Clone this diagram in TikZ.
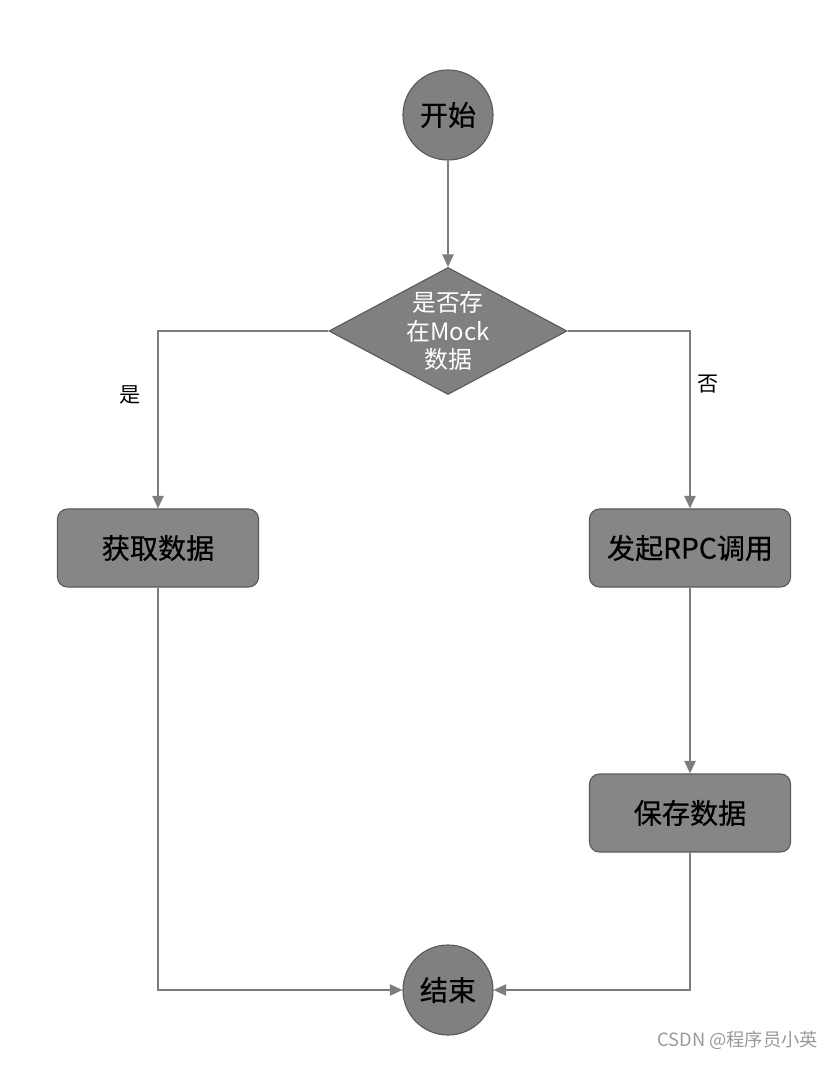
\documentclass[tikz,border=0pt]{standalone}
\usepackage{fontspec}
\setmainfont{Noto Sans CJK SC}
\newfontfamily\boxfont[FakeBold=0.5]{Noto Sans CJK SC}
\usepackage{tikz}
\usetikzlibrary{
  arrows.meta,
  positioning,
  shapes.geometric
}
\definecolor{flowgray}{RGB}{128,128,128}
\definecolor{edgegray}{RGB}{90,90,90}
\definecolor{linegray}{RGB}{125,125,125}

\begin{document}
\begin{tikzpicture}[x=0.025cm, y=-0.025cm,
  termnode/.style={circle, draw=edgegray, line width=0.8pt, fill=flowgray,
    minimum size=2.25cm, inner sep=0pt, font=\boxfont\fontsize{20pt}{24pt}\selectfont},
  decide/.style={diamond, draw=edgegray, line width=0.8pt, fill=flowgray,
    minimum width=5.95cm, minimum height=3.175cm, inner sep=0pt},
  decidetext/.style={align=center, text=white, inner sep=0pt,
    font=\fontsize{17pt}{20pt}\selectfont},
  procbox/.style={rectangle, rounded corners=0.25cm, draw=edgegray, line width=0.8pt,
    fill=flowgray!95!white, minimum width=5.025cm, minimum height=1.95cm,
    font=\boxfont\fontsize{20pt}{24pt}\selectfont},
  flowline/.style={draw=linegray, line width=1.4pt, -{Triangle[length=9pt, width=8pt]}},
  choice/.style={font=\fontsize{15pt}{18pt}\selectfont}
]

  %% Canvas
  \useasboundingbox (0,0) rectangle (837,1086);

  %% Nodes
  \node[termnode] (start) at (448,115) {开始};
  \node[decide, label={[decidetext]center:是否存\\在Mock\\数据}] (check) at (448,331) {};
  \node[procbox] (fetch) at (158,548) {获取数据};
  \node[procbox] (rpc) at (690,548) {发起RPC调用};
  \node[procbox] (save) at (690,813) {保存数据};
  \node[termnode] (stop) at (448,990) {结束};

  %% Connectors
  \draw[flowline] (start) -- (check);
  \draw[flowline] (check.west) -| (fetch.north)
    node[choice, pos=0.68, left=8pt] {是};
  \draw[flowline] (check.east) -| (rpc.north)
    node[choice, pos=0.65, right=1pt] {否};
  \draw[flowline] (rpc) -- (save);
  \draw[flowline] (fetch.south) |- (stop.west);
  \draw[flowline] (save.south) |- (stop.east);

  %% Watermark
  \node[anchor=east, text=gray!80, font=\fontsize{13pt}{15pt}\selectfont]
    (mark) at (823,1040) {CSDN @程序员小英};

\end{tikzpicture}
\end{document}
